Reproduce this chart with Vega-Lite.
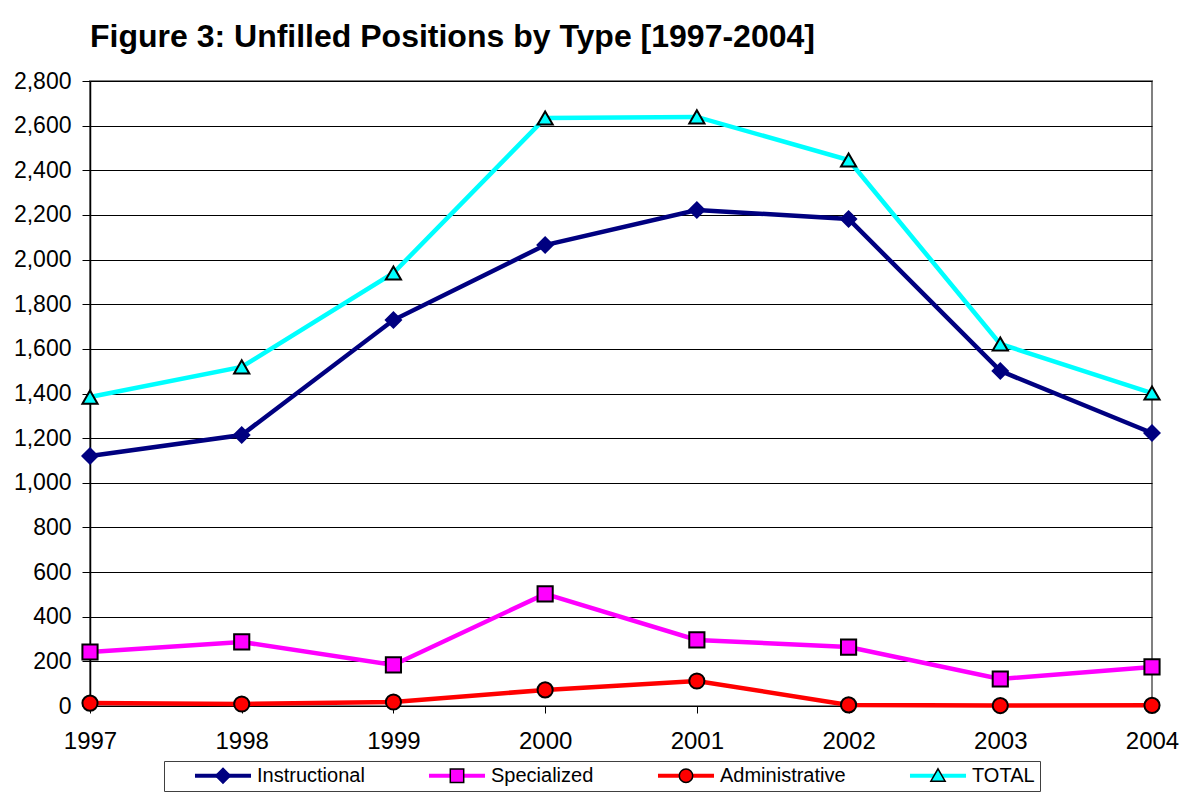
{
  "$schema": "https://vega.github.io/schema/vega-lite/v6.json",
  "width": 1062,
  "height": 625,
  "autosize": "none",
  "padding": {"left": 90, "top": 81, "right": 28, "bottom": 90},
  "background": "white",
  "title": {
    "text": "Figure 3: Unfilled Positions by Type [1997-2004]",
    "anchor": "start",
    "frame": "group",
    "font": "Liberation Sans",
    "fontSize": 32,
    "fontWeight": "bold",
    "color": "black",
    "baseline": "alphabetic",
    "offset": -9
  },
  "config": {
    "font": "Liberation Sans",
    "view": {"stroke": "#808080", "strokeWidth": 2}
  },
  "data": {
    "values": [
      {"year": 1997, "type": "Instructional", "value": 1120},
      {"year": 1998, "type": "Instructional", "value": 1214},
      {"year": 1999, "type": "Instructional", "value": 1729},
      {"year": 2000, "type": "Instructional", "value": 2065},
      {"year": 2001, "type": "Instructional", "value": 2222},
      {"year": 2002, "type": "Instructional", "value": 2182},
      {"year": 2003, "type": "Instructional", "value": 1501},
      {"year": 2004, "type": "Instructional", "value": 1223},
      {"year": 1997, "type": "Specialized", "value": 242},
      {"year": 1998, "type": "Specialized", "value": 287},
      {"year": 1999, "type": "Specialized", "value": 184},
      {"year": 2000, "type": "Specialized", "value": 502},
      {"year": 2001, "type": "Specialized", "value": 296},
      {"year": 2002, "type": "Specialized", "value": 264},
      {"year": 2003, "type": "Specialized", "value": 121},
      {"year": 2004, "type": "Specialized", "value": 175},
      {"year": 1997, "type": "Administrative", "value": 13},
      {"year": 1998, "type": "Administrative", "value": 9},
      {"year": 1999, "type": "Administrative", "value": 18},
      {"year": 2000, "type": "Administrative", "value": 72},
      {"year": 2001, "type": "Administrative", "value": 112},
      {"year": 2002, "type": "Administrative", "value": 5},
      {"year": 2003, "type": "Administrative", "value": 2},
      {"year": 2004, "type": "Administrative", "value": 3},
      {"year": 1997, "type": "TOTAL", "value": 1384},
      {"year": 1998, "type": "TOTAL", "value": 1519},
      {"year": 1999, "type": "TOTAL", "value": 1940},
      {"year": 2000, "type": "TOTAL", "value": 2634},
      {"year": 2001, "type": "TOTAL", "value": 2639},
      {"year": 2002, "type": "TOTAL", "value": 2446},
      {"year": 2003, "type": "TOTAL", "value": 1622},
      {"year": 2004, "type": "TOTAL", "value": 1402}
    ]
  },
  "encoding": {
    "x": {
      "field": "year",
      "type": "ordinal",
      "scale": {"type": "point", "padding": 0},
      "axis": {
        "title": null,
        "labelAngle": 0,
        "labelFont": "Liberation Sans",
        "labelFontSize": 24,
        "labelColor": "black",
        "labelPadding": 16,
        "tickSize": 7,
        "tickColor": "black",
        "domain": false,
        "grid": false
      }
    },
    "y": {
      "field": "value",
      "type": "quantitative",
      "scale": {"domain": [0, 2800], "nice": false},
      "axis": {
        "title": null,
        "values": [0, 200, 400, 600, 800, 1000, 1200, 1400, 1600, 1800, 2000, 2200, 2400, 2600, 2800],
        "format": ",d",
        "labelFont": "Liberation Sans",
        "labelFontSize": 23,
        "labelColor": "black",
        "labelPadding": 11,
        "tickSize": 8,
        "tickColor": "black",
        "domainColor": "black",
        "domainWidth": 1.5,
        "grid": true,
        "gridColor": "black",
        "gridWidth": 1
      }
    }
  },
  "layer": [
    {
      "mark": {"type": "line", "strokeWidth": 4.5},
      "encoding": {
        "stroke": {
          "field": "type",
          "type": "nominal",
          "scale": {
            "domain": ["Instructional", "Specialized", "Administrative", "TOTAL"],
            "range": ["#000080", "#FF00FF", "#FF0000", "#00FFFF"]
          },
          "legend": {
            "orient": "none",
            "legendX": 74,
            "legendY": 680,
            "direction": "horizontal",
            "columns": 4,
            "title": null,
            "padding": 5,
            "strokeColor": "#404040",
            "fillColor": "white",
            "symbolType": "M-0.667,0H0.667",
            "symbolSize": 7056,
            "symbolStrokeWidth": 4,
            "symbolFillColor": "transparent",
            "symbolOffset": 10,
            "labelOffset": -10,
            "labelFont": "Liberation Sans",
            "labelFontSize": 20,
            "labelColor": "black",
            "labelLimit": 400,
            "columnPadding": 38,
            "clipHeight": 19,
            "zindex": 0
          }
        }
      }
    },
    {
      "mark": {"type": "point", "filled": true, "size": 230, "strokeWidth": 2, "opacity": 1},
      "encoding": {
        "fill": {
          "field": "type",
          "type": "nominal",
          "sort": ["Instructional", "Specialized", "Administrative", "TOTAL"],
          "scale": {"range": ["#000080", "#FF00FF", "#FF0000", "#00FFFF"]},
          "legend": {
            "orient": "none",
            "legendX": 74,
            "legendY": 680,
            "direction": "horizontal",
            "columns": 4,
            "title": null,
            "padding": 5,
            "symbolSize": 7482.25,
            "symbolStrokeWidth": 1.5,
            "symbolType": {"expr": "datum.value === 'Instructional' ? 'M0,-0.17L0.17,0L0,0.17L-0.17,0Z' : datum.value === 'Specialized' ? 'M-0.155,-0.155H0.155V0.155H-0.155Z' : datum.value === 'Administrative' ? 'M-0.155,0A0.155,0.155,0,1,0,0.155,0A0.155,0.155,0,1,0,-0.155,0Z' : 'M0,-0.16L0.165,0.125L-0.165,0.125Z'"},
            "symbolStrokeColor": {"expr": "datum.value === 'Instructional' ? '#000080' : 'black'"},
            "symbolOffset": 10,
            "labelOffset": -10,
            "labelFont": "Liberation Sans",
            "labelFontSize": 20,
            "labelColor": "transparent",
            "labelLimit": 400,
            "columnPadding": 38,
            "clipHeight": 19,
            "zindex": 1
          }
        },
        "shape": {
          "field": "type",
          "type": "nominal",
          "sort": ["Instructional", "Specialized", "Administrative", "TOTAL"],
          "scale": {"range": ["diamond", "square", "circle", "triangle-up"]},
          "legend": null
        },
        "stroke": {
          "condition": {"test": "datum.type === 'Instructional'", "value": "#000080"},
          "value": "black"
        }
      }
    }
  ]
}
